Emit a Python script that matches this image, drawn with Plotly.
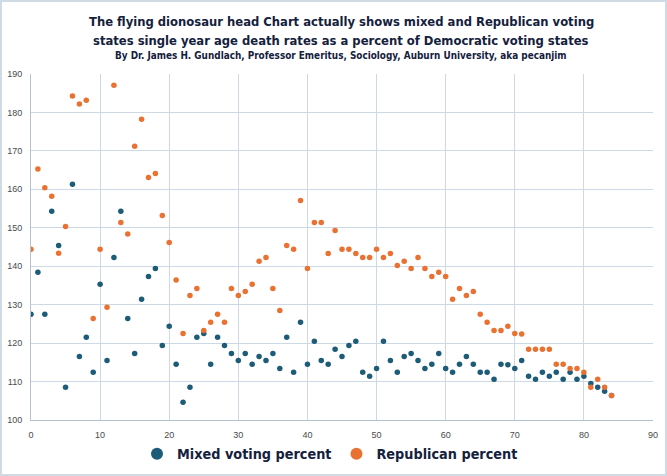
import plotly.graph_objects as go

ages = list(range(0, 85))

mixed_pct = [127.5, 138.4, 127.5, 154.3, 145.4, 108.5, 161.3, 116.5, 121.5, 112.4,
             135.3, 115.5, 142.3, 154.3, 126.4, 117.3, 131.4, 137.3, 139.4, 119.4,
             124.4, 114.5, 104.6, 108.5, 121.5, 122.5, 114.5, 121.5, 119.4, 117.3,
             115.5, 117.3, 114.5, 116.5, 115.5, 117.3, 113.4, 121.5, 112.4, 125.4,
             114.5, 120.5, 115.5, 114.5, 118.4, 116.5, 119.4, 120.5, 112.4, 111.4,
             113.4, 120.5, 115.5, 112.4, 116.5, 117.3, 115.5, 113.4, 114.5, 117.3,
             113.4, 112.4, 114.5, 116.5, 114.5, 112.4, 112.4, 110.6, 114.5, 114.4,
             113.4, 115.5, 111.4, 110.6, 112.4, 111.4, 112.4, 110.6, 112.4, 110.6,
             111.4, 109.5, 108.5, 107.5, 106.4]

republican_pct = [144.4, 165.3, 160.4, 158.2, 143.4, 150.3, 184.3, 182.2, 183.2, 126.4,
                  144.4, 129.3, 187.1, 151.4, 148.4, 171.2, 178.2, 163.1, 164.1, 153.2,
                  146.2, 136.4, 122.5, 132.4, 134.2, 123.3, 125.4, 127.5, 125.4, 134.2,
                  132.4, 133.4, 135.3, 141.3, 142.3, 134.2, 128.5, 145.4, 144.4, 157.1,
                  139.4, 151.4, 151.4, 143.3, 149.3, 144.4, 144.4, 143.3, 142.3, 142.3,
                  144.4, 142.3, 143.3, 140.2, 141.3, 139.4, 142.3, 139.4, 137.3, 138.4,
                  137.3, 131.4, 134.2, 132.4, 133.4, 127.5, 125.4, 123.3, 123.3, 124.4,
                  122.5, 122.4, 118.4, 118.4, 118.4, 118.4, 114.5, 114.5, 113.4, 113.4,
                  112.4, 108.5, 110.6, 108.5, 106.4]

x_ticks = [0, 10, 20, 30, 40, 50, 60, 70, 80, 90]
y_ticks = [100, 110, 120, 130, 140, 150, 160, 170, 180, 190]

title_line1 = "The flying dionosaur head Chart actually shows mixed and Republican voting"
title_line2 = "states single year age death rates as a percent of Democratic voting states"
subtitle = "By Dr. James H. Gundlach, Professor Emeritus, Sociology, Auburn University, aka pecanjim"

BLUE = "#1d5c78"
ORANGE = "#e97132"
NAVY = "#14213d"
TFONT = "DejaVu Sans Condensed, DejaVu Sans, sans-serif"

W, H = 667, 476
ML, MR, MT, MB = 31, 14, 74, 56

fig = go.Figure()
fig.add_trace(go.Scatter(x=ages, y=mixed_pct, mode="markers", name="Mixed voting percent",
                         marker=dict(color=BLUE, size=5.5, symbol="circle")))
fig.add_trace(go.Scatter(x=ages, y=republican_pct, mode="markers", name="Republican percent",
                         marker=dict(color=ORANGE, size=5.5, symbol="circle")))

grid = "#cdd9e5"
tickfont = dict(family="Liberation Sans, Arial", size=9, color="#4a4a4a")
fig.update_xaxes(range=[0, 90], tickvals=x_ticks, showgrid=True, gridcolor=grid, gridwidth=1,
                 zeroline=False, showline=True, linecolor="#b4c3d2", linewidth=1,
                 ticks="", tickfont=tickfont, ticklabelstandoff=6, automargin=False)
fig.update_yaxes(range=[100, 190], tickvals=y_ticks, showgrid=True, gridcolor=grid, gridwidth=1,
                 zeroline=False, showline=True, linecolor="#b4c3d2", linewidth=1,
                 ticks="", tickfont=tickfont, ticklabelstandoff=6, automargin=False)

fx = lambda px: (px - ML) / (W - ML - MR)
fy = lambda py: 1 - (py - MT) / (H - MT - MB)

title_font = dict(family=TFONT, size=12.9, color=NAVY, weight="bold")

fig.update_layout(
    width=W, height=H,
    margin=dict(l=ML, r=MR, t=MT, b=MB, autoexpand=False),
    paper_bgcolor="white", plot_bgcolor="white",
    showlegend=True,
    legend=dict(orientation="h", x=0.5 - 12 / (W - ML - MR), xanchor="center", y=fy(454), yanchor="middle",
                font=dict(family=TFONT, size=14.3, color=NAVY, weight="bold"),
                itemsizing="constant", tracegroupgap=0),
    annotations=[
        dict(text=title_line1, xref="paper", yref="paper", x=0.5 - 1 / (W - ML - MR), xanchor="center",
             y=fy(21), yanchor="middle", showarrow=False, font=title_font),
        dict(text=title_line2, xref="paper", yref="paper", x=0.5 - 1 / (W - ML - MR), xanchor="center",
             y=fy(41), yanchor="middle", showarrow=False, font=title_font),
        dict(text=subtitle, xref="paper", yref="paper", x=0.5 - 1 / (W - ML - MR), xanchor="center",
             y=fy(55), yanchor="middle", showarrow=False,
             font=dict(family=TFONT, size=9.9, color=NAVY, weight="bold")),
    ],
    shapes=[dict(type="rect", xref="paper", yref="paper", x0=fx(1), x1=fx(W - 1), y0=fy(H - 1), y1=fy(1),
                 line=dict(color="#d0dae4", width=2), layer="below")],
)

fig.write_html("out.html", config={"displayModeBar": False},
               post_script="document.body.style.margin='0';document.body.style.overflow='hidden';")
